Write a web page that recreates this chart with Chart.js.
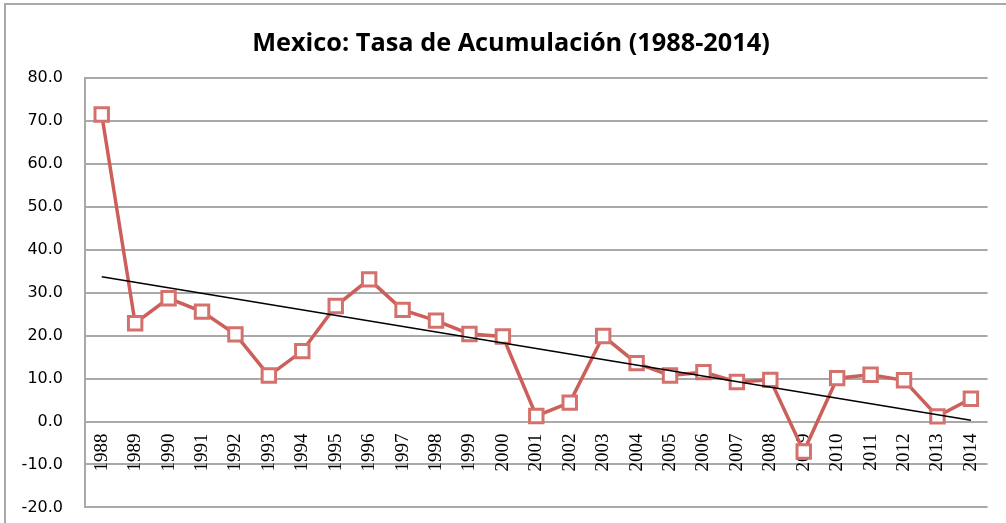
<!DOCTYPE html>
<html>
<head>
<meta charset="utf-8">
<script src="https://cdn.jsdelivr.net/npm/chart.js@4/dist/chart.umd.min.js"></script>
<style>
  html, body { margin: 0; padding: 0; background: #fff; overflow: hidden; }
  #wrap { position: absolute; left: 0; top: 0; width: 1006px; height: 539px; }
  #frame { position: absolute; left: 4px; top: 3px; width: 1100px; height: 600px;
           border-left: 2px solid #a9a9a9; border-top: 2px solid #a9a9a9; pointer-events: none; }
  #title { position: absolute; left: 0; top: 25.5px; width: 1022px; text-align: center;
           font-family: "Open Sans", sans-serif; font-weight: 700; font-size: 25.3px;
           line-height: 30px; color: #000; white-space: nowrap; }
</style>
</head>
<body>
<div id="wrap"><canvas id="c" width="1006" height="539"></canvas></div>
<div id="frame"></div>
<div id="title"></div>
<script>
const titleText = 'Mexico: Tasa de Acumulación (1988-2014)';
const years = ['1988','1989','1990','1991','1992','1993','1994','1995','1996','1997','1998','1999','2000',
               '2001','2002','2003','2004','2005','2006','2007','2008','2009','2010','2011','2012','2013','2014'];
const tasa = [71.5, 22.9, 28.7, 25.6, 20.3, 10.7, 16.4, 26.9, 33.1, 26.0, 23.5, 20.4, 19.8,
              1.3, 4.4, 19.9, 13.6, 10.7, 11.5, 9.2, 9.7, -7.0, 10.1, 10.9, 9.6, 1.2, 5.3];
const trendYears = ['1988', '2014'];
const trendValues = [33.7, 0.3];
const yMin = -20, yMax = 80, yStep = 10;

document.getElementById('title').textContent = titleText;

const ctx = document.getElementById('c').getContext('2d');
new Chart(ctx, {
  type: 'line',
  data: {
    labels: years,
    datasets: [
      {
        label: 'Tendencia',
        data: trendYears.map((y, i) => ({ x: y, y: trendValues[i] })),
        borderColor: '#000000',
        borderWidth: 1.5,
        pointRadius: 0,
        fill: false,
        order: 0
      },
      {
        label: 'Tasa de Acumulación',
        data: tasa,
        borderColor: '#cd5f5a',
        borderWidth: 3.5,
        pointStyle: 'rect',
        pointRadius: 9.5,
        pointBorderWidth: 3,
        pointBorderColor: '#d4716d',
        pointBackgroundColor: '#ffffff',
        fill: false,
        tension: 0,
        order: 1
      }
    ]
  },
  options: {
    responsive: false,
    animation: false,
    layout: { padding: { left: 0, right: 17, top: 78, bottom: 1 } },
    plugins: {
      legend: { display: false },
      tooltip: { enabled: false },
      title: { display: false }
    },
    scales: {
      x: {
        type: 'category',
        offset: true,
        position: { y: 0 },
        grid: { display: false, drawTicks: false },
        border: { display: false },
        ticks: {
          autoSkip: false,
          minRotation: 90,
          maxRotation: 90,
          padding: 12,
          color: '#000',
          font: { family: '"Liberation Sans Narrow"', size: 19 }
        }
      },
      y: {
        min: yMin,
        max: yMax,
        afterFit: (s) => { s.width = 85; },
        grid: { color: '#a9a9a9', lineWidth: 2, drawTicks: false },
        border: { display: true, color: '#a9a9a9', width: 2 },
        ticks: {
          stepSize: yStep,
          padding: 22,
          color: '#000',
          font: { family: '"DejaVu Sans"', size: 16 },
          callback: (v) => Number(v).toFixed(1)
        }
      }
    }
  }
});
</script>
</body>
</html>
